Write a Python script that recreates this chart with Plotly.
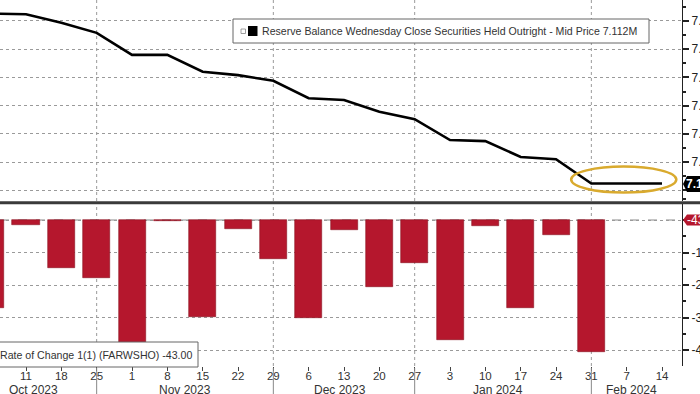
import plotly.graph_objects as go

# ---------------- data ----------------
dates = ["2023-10-04", "2023-10-11", "2023-10-18", "2023-10-25", "2023-11-01", "2023-11-08",
         "2023-11-15", "2023-11-22", "2023-11-29", "2023-12-06", "2023-12-13", "2023-12-20",
         "2023-12-27", "2024-01-03", "2024-01-10", "2024-01-17", "2024-01-24", "2024-01-31",
         "2024-02-07", "2024-02-14"]
balance = [7.413, 7.412, 7.397, 7.379, 7.340, 7.340, 7.310, 7.304, 7.294, 7.263, 7.260, 7.239,
           7.226, 7.189, 7.187, 7.159, 7.155, 7.112, 7.112, 7.112]
bar_dates = dates[:18]
change = [-27.1, -1.5, -14.9, -17.8, -39.0, -0.3, -29.9, -2.8, -12.1, -30.2, -3.1, -20.6,
          -13.3, -36.9, -1.8, -27.2, -4.6, -40.7]
tick_dates = dates[1:]
tick_days = ["11", "18", "25", "1", "8", "15", "22", "29", "6", "13", "20", "27", "3", "10",
             "17", "24", "31", "7", "14"]
month_labels = ["Oct 2023", "Nov 2023", "Dec 2023", "Jan 2024", "Feb 2024"]
month_label_pos = ["2023-10-12 14:00", "2023-11-11 12:00", "2023-12-12 05:00",
                   "2024-01-12 12:00", "2024-02-08 00:00"]
month_breaks = ["2023-10-25", "2023-11-29", "2023-12-27", "2024-01-31"]
top_ticks = [7.40, 7.35, 7.30, 7.25, 7.20, 7.15, 7.10]
top_tick_text = ["7.40", "7.35", "7.30", "7.25", "7.20", "7.15", ""]
bot_ticks = [0, -10, -20, -30, -40]
bot_tick_text = ["", "-10", "-20", "-30", "-40"]
top_label = "Reserve Balance Wednesday Close Securities Held Outright - Mid Price 7.112M"
bot_label = "Rate of Change 1(1) (FARWSHO) -43.00"
last_value_text = "7.112"
last_change_text = "-43.00"

# ---------------- figure ----------------
W, H = 700, 394
PW = 682  # plot right edge in px
PH = 366  # plot bottom edge in px
def px(x):
    return x / PW
def py(y):
    return (PH - y) / PH

FONT = "Liberation Sans"
GRID = "#9a9a9a"
RED = "#b5172d"

fig = go.Figure()
fig.add_trace(go.Scatter(x=dates, y=balance, mode="lines",
                         line=dict(color="black", width=2.6), xaxis="x2", yaxis="y",
                         showlegend=False, hoverinfo="skip"))
fig.add_trace(go.Bar(x=bar_dates, y=change,
                     marker=dict(color=RED, line=dict(color="#8a1020", width=0.6)),
                     width=5.35 * 86400000, xaxis="x", yaxis="y2", showlegend=False,
                     hoverinfo="skip"))

xrange = ["2023-10-05 20:24", "2024-02-17 23:00"]
top_dom = [py(201), 1.0]
bot_dom = [0.0, py(204)]

fig.update_layout(
    width=W, height=H,
    margin=dict(l=0, r=W - PW, t=0, b=H - PH),
    paper_bgcolor="white", plot_bgcolor="white",
    font=dict(family=FONT, size=11, color="#333"),
    bargap=0,
    xaxis=dict(domain=[0, 1], range=xrange, anchor="y2", type="date",
               tickmode="array", tickvals=tick_dates, ticktext=tick_days,
               ticks="outside", ticklen=4, tickcolor="#444", showgrid=False,
               showline=False, zeroline=False, tickfont=dict(size=11.5, color="#333"),
               ticklabelstandoff=-5, automargin=False),
    xaxis2=dict(domain=[0, 1], range=xrange, anchor="y", type="date", matches="x",
                showticklabels=False, showgrid=False, ticks="", showline=False,
                zeroline=False),
    yaxis=dict(domain=top_dom, range=[7.0809, 7.4372], side="right", anchor="x2",
               tickmode="array", tickvals=top_ticks, ticktext=top_tick_text,
               ticks="outside", ticklen=6, tickwidth=2, tickcolor="#222",
               showgrid=True, gridcolor=GRID, griddash="dot", gridwidth=1,
               showline=True, linecolor="#222", linewidth=1.2, zeroline=False,
               minor=dict(tickvals=[7.425, 7.375, 7.325, 7.275, 7.225, 7.175, 7.125, 7.085],
                          ticks="outside", ticklen=3, tickcolor="#222", showgrid=False),
               tickfont=dict(size=12, color="#222"), automargin=False),
    yaxis2=dict(domain=bot_dom, range=[-44.9, 4.92], side="right", anchor="x",
                tickmode="array", tickvals=bot_ticks, ticktext=bot_tick_text,
                ticks="outside", ticklen=6, tickwidth=2, tickcolor="#222",
                showgrid=True, gridcolor=GRID, griddash="dot", gridwidth=1,
                showline=True, linecolor="#222", linewidth=1.2, zeroline=False,
                minor=dict(tickvals=[-5, -15, -25, -35, 5], ticks="outside", ticklen=3,
                           tickcolor="#222", showgrid=False),
                tickfont=dict(size=12, color="#222"), automargin=False),
)

shapes = []
# month separators: dotted in panels, solid in label area
for d in month_breaks:
    shapes.append(dict(type="line", xref="x", yref="paper", x0=d, x1=d, y0=top_dom[0], y1=1,
                       line=dict(color=GRID, width=1, dash="dot"), layer="below"))
    shapes.append(dict(type="line", xref="x", yref="paper", x0=d, x1=d, y0=0, y1=bot_dom[1],
                       line=dict(color=GRID, width=1, dash="dot"), layer="below"))
    shapes.append(dict(type="line", xref="x", yref="paper", x0=d, x1=d, y0=py(368), y1=py(394),
                       line=dict(color="#888", width=1)))
# zero line of bottom panel
shapes.append(dict(type="line", xref="paper", yref="y2", x0=0, x1=1, y0=0, y1=0,
                   line=dict(color="#8a8a8a", width=1, dash="dash"), layer="below"))
# thick panel divider
shapes.append(dict(type="line", xref="paper", yref="paper", x0=0, x1=W / PW, y0=py(202.7),
                   y1=py(202.7), line=dict(color="#3a3a3a", width=3)))
# highlight ellipse
shapes.append(dict(type="circle", xref="x", yref="y", x0="2024-01-27 00:00",
                   x1="2024-02-16 20:00", y0=7.0959, y1=7.1420,
                   line=dict(color="#d9aa2e", width=2.5)))
# top legend box
shapes.append(dict(type="rect", xref="paper", yref="paper", x0=px(233), x1=px(649),
                   y0=py(43), y1=py(19), line=dict(color="#666", width=1), fillcolor="white"))
shapes.append(dict(type="rect", xref="paper", yref="paper", x0=px(241), x1=px(245.5),
                   y0=py(33.5), y1=py(29), line=dict(color="#888", width=0.8), fillcolor="white"))
shapes.append(dict(type="rect", xref="paper", yref="paper", x0=px(248), x1=px(257.5),
                   y0=py(36), y1=py(26), line=dict(color="black", width=0), fillcolor="black"))
# bottom legend box
shapes.append(dict(type="rect", xref="paper", yref="paper", x0=px(-10), x1=px(198),
                   y0=py(367), y1=py(342), line=dict(color="#666", width=1), fillcolor="white"))
# value tags on axis
shapes.append(dict(type="path", xref="paper", yref="paper",
                   path=f"M {px(683)},{py(184)} L {px(687)},{py(176)} L {px(710)},{py(176)} "
                        f"L {px(710)},{py(192)} L {px(687)},{py(192)} Z",
                   fillcolor="black", line=dict(width=0)))
shapes.append(dict(type="path", xref="paper", yref="paper",
                   path=f"M {px(683)},{py(220)} L {px(687)},{py(214.5)} L {px(710)},{py(214.5)} "
                        f"L {px(710)},{py(225.5)} L {px(687)},{py(225.5)} Z",
                   fillcolor=RED, line=dict(width=0)))
fig.update_layout(shapes=shapes)

ann = []
ann.append(dict(xref="paper", yref="paper", x=px(260), y=py(31), xanchor="left", yanchor="middle",
                text=top_label, showarrow=False, font=dict(size=10.6, color="#333", family=FONT)))
ann.append(dict(xref="paper", yref="paper", x=px(-2), y=py(355), xanchor="left", yanchor="middle",
                text=bot_label, showarrow=False, font=dict(size=10.6, color="#333", family=FONT)))
ann.append(dict(xref="paper", yref="paper", x=px(684), y=py(184), xanchor="left", yanchor="middle",
                text=f"<b>{last_value_text}</b>", showarrow=False,
                font=dict(size=12, color="white", family=FONT)))
ann.append(dict(xref="paper", yref="paper", x=px(685), y=py(220), xanchor="left", yanchor="middle",
                text=last_change_text, showarrow=False, font=dict(size=12, color="white", family=FONT)))
for lab, pos in zip(month_labels, month_label_pos):
    ann.append(dict(xref="x", yref="paper", x=pos, y=py(389.5), xanchor="center", yanchor="middle",
                    text=lab, showarrow=False, font=dict(size=12, color="#333", family=FONT)))
fig.update_layout(annotations=ann)

fig.write_html("out.html", config={"displayModeBar": False},
               post_script="document.body.style.margin='0';document.body.style.overflow='hidden';")
